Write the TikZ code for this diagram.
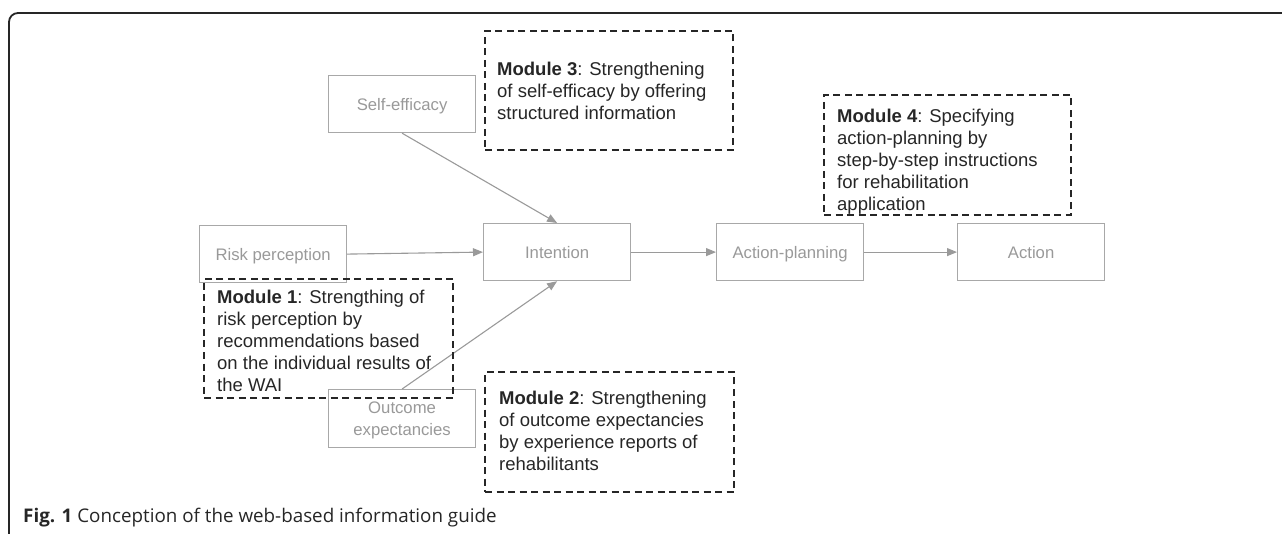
\documentclass[tikz,border=0pt]{standalone}
\usepackage{fontspec}
\setmainfont{Liberation Sans}
\newfontfamily\capfont{Open Sans}
\usetikzlibrary{arrows.meta}
\definecolor{boxgray}{HTML}{A8A8A8}
\definecolor{txtgray}{HTML}{999999}
\definecolor{arrgray}{HTML}{9A9A9A}
\definecolor{dark}{HTML}{262626}
\begin{document}
\begin{tikzpicture}[x=1pt,y=-1pt,
  gbox/.style={draw=boxgray, line width=1.2pt, minimum width=147pt, minimum height=57pt, inner sep=0pt, text depth=0pt, text=txtgray, font=\fontsize{16.7}{22}\selectfont, align=center, anchor=north west},
  mbox/.style={draw=dark, line width=2pt, dash pattern=on 7pt off 4.5pt, inner sep=0pt, anchor=north west, minimum width=248pt, minimum height=119pt},
  mtext/.style={text=dark, font=\fontsize{18.5}{22}\selectfont, align=left, inner sep=0pt, anchor=north west},
  conn/.style={draw=arrgray, line width=1.1pt, -{Triangle[length=10pt,width=8pt]}}]
\useasboundingbox (0,0) rectangle (1282,534);
\draw[dark, line width=1.8pt, rounded corners=9pt] (9,560) -- (9,13) -- (1300,13);
% concept boxes
\node[gbox] (se) at (328,75) {Self-efficacy};
\node[gbox] (risk) at (199,225) {Risk perception};
\node[gbox] (int) at (483,223) {Intention};
\node[gbox] (ap) at (716,223) {Action-planning};
\node[gbox] (act) at (957,223) {Action};
\node[gbox, minimum height=58pt] (out) at (328,389) {Outcome\\expectancies};
% connectors
\draw[conn] (se.south) -- (int.north);
\draw[conn] (risk.east) -- (int.west);
\draw[conn] (out.north) -- (int.south);
\draw[conn] (int.east) -- (ap.west);
\draw[conn] (ap.east) -- (act.west);
% module boxes
\node[mbox] (m3) at (484,30) {};
\node[mtext] (t3) at (497,61.5) {\textbf{Module 3}: Strengthening\\of self-efficacy by offering\\structured information};
\node[mbox, minimum width=247pt, minimum height=120pt] (m4) at (823,94) {};
\node[mtext] (t4) at (837,109) {\textbf{Module 4}: Specifying\\action-planning by\\step-by-step instructions\\for rehabilitation\\application};
\node[mbox, minimum width=249pt] (m1) at (203,278) {};
\node[mtext] (t1) at (217,290) {\textbf{Module 1}: Strengthing of\\risk perception by\\recommendations based\\on the individual results of\\the WAI};
\node[mbox, minimum width=249pt, minimum height=120pt] (m2) at (484,371) {};
\node[mtext] (t2) at (499,390.5) {\textbf{Module 2}: Strengthening\\of outcome expectancies\\by experience reports of\\rehabilitants};
% caption
\node[anchor=base west, inner sep=0pt, text=dark, font=\capfont\fontsize{18.8}{22}\selectfont] (cap) at (23,522) {\textbf{Fig. 1} Conception of the web-based information guide};
\end{tikzpicture}
\end{document}
